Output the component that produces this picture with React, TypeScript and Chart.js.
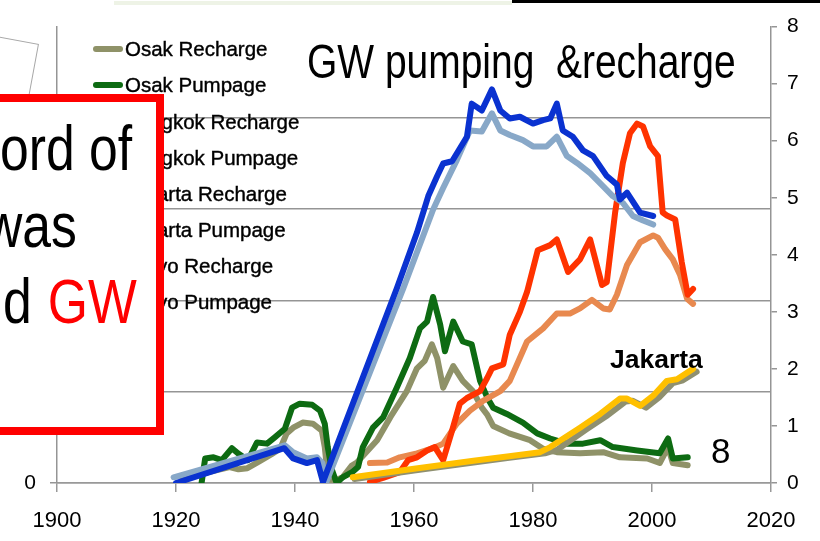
import React, { useEffect, useRef } from "react";
import { Chart, registerables } from "chart.js";

Chart.register(...registerables);

// ---- Data (years / values, right axis 0-8) ----
const xTicks = [1900, 1920, 1940, 1960, 1980, 2000, 2020];

const seriesNames = [
  "Osak Recharge",
  "Osak Pumpage",
  "Bangkok Recharge",
  "Bangkok Pumpage",
  "Jakarta Recharge",
  "Jakarta Pumpage",
  "Tokyo Recharge",
  "Tokyo Pumpage",
];
const seriesColors = ["#8f9268", "#0d6b12", "#e8894f", "#ff3300", "#8f9070", "#ffc000", "#88a8c8", "#0a32d0"];

const osakaRechargeYears = [1921, 1925, 1929, 1930.5, 1932, 1934, 1936, 1937.5, 1938.6, 1939.7, 1941.3, 1943, 1944.5, 1945, 1945.4, 1945.8, 1948, 1949.5, 1950.4, 1953.8, 1956, 1958.8, 1960.5, 1961.8, 1963, 1963.9, 1964.9, 1966.6, 1968.2, 1969.9, 1971.4, 1972.3, 1973.3, 1976, 1979.5, 1981.7, 1984, 1987.9, 1991.8, 1994.6, 1999.2, 2001.3, 2002.7, 2003.5, 2006];
const osakaRechargeValues = [0.05, 0.18, 0.28, 0.24, 0.26, 0.38, 0.5, 0.6, 0.87, 0.97, 1.06, 1.04, 0.92, 0.63, 0.23, 0.0, 0.1, 0.3, 0.36, 0.75, 1.15, 1.61, 2.01, 2.14, 2.43, 2.19, 1.67, 2.05, 1.79, 1.61, 1.32, 1.2, 1.0, 0.87, 0.75, 0.6, 0.54, 0.52, 0.54, 0.45, 0.43, 0.35, 0.63, 0.35, 0.31];

const osakaPumpYears = [1924.3, 1924.9, 1926.3, 1927.7, 1929.4, 1930.4, 1932.1, 1933.6, 1935.3, 1936.6, 1938.3, 1939.5, 1940.8, 1942.9, 1944.2, 1945, 1945.5, 1946.2, 1947, 1948, 1949.6, 1950.6, 1951.4, 1953.1, 1954.8, 1957.1, 1959.3, 1961, 1962.2, 1963.2, 1964.4, 1965.2, 1966.6, 1968.2, 1969.7, 1971.1, 1972.3, 1973.3, 1975.6, 1978.3, 1980.7, 1982.9, 1985.7, 1988.4, 1991.3, 1993.4, 1997.5, 2001.3, 2002.7, 2003.5, 2006];
const osakaPumpValues = [0.0, 0.43, 0.45, 0.4, 0.61, 0.52, 0.4, 0.71, 0.69, 0.8, 0.95, 1.32, 1.39, 1.37, 1.27, 1.04, 0.63, 0.23, 0.0, 0.1, 0.19, 0.28, 0.63, 0.97, 1.15, 1.67, 2.19, 2.71, 2.83, 3.26, 2.78, 2.31, 2.83, 2.48, 2.43, 1.79, 1.5, 1.32, 1.21, 1.06, 0.87, 0.78, 0.69, 0.69, 0.75, 0.63, 0.57, 0.52, 0.78, 0.43, 0.45];

const bangkokRechargeYears = [1952.6, 1955.5, 1957.6, 1960.5, 1963.2, 1964.9, 1967.2, 1969.4, 1971.6, 1974.5, 1976.1, 1979, 1981.7, 1984, 1986.2, 1987.9, 1989.9, 1991.8, 1992.9, 1994.1, 1995.8, 1998, 2000.2, 2001, 2002.2, 2003.5, 2004.7, 2005.9, 2006.9];
const bangkokRechargeValues = [0.35, 0.36, 0.45, 0.52, 0.61, 0.69, 1.04, 1.27, 1.44, 1.61, 1.79, 2.48, 2.71, 2.97, 2.97, 3.06, 3.21, 3.06, 3.04, 3.3, 3.82, 4.22, 4.34, 4.3, 4.1, 3.92, 3.65, 3.23, 3.14];

const bangkokPumpYears = [1952.6, 1954.8, 1957.6, 1959, 1960.5, 1962.2, 1963.5, 1964.9, 1966.4, 1967.7, 1968.9, 1971.1, 1972.3, 1973.1, 1975, 1976.1, 1977.8, 1979, 1980.8, 1982.9, 1984, 1985.9, 1987.9, 1989.6, 1991.6, 1992.4, 1993.8, 1995.1, 1996.3, 1997.5, 1998.5, 1999.7, 2001, 2001.8, 2002.5, 2003.9, 2005, 2006, 2006.9];
const bangkokPumpValues = [0.02, 0.09, 0.19, 0.4, 0.45, 0.57, 0.63, 0.4, 0.92, 1.39, 1.49, 1.61, 1.84, 2.01, 2.08, 2.6, 3.0, 3.35, 4.08, 4.17, 4.27, 3.7, 3.92, 4.27, 3.47, 3.52, 4.74, 5.61, 6.13, 6.3, 6.25, 5.9, 5.73, 4.74, 4.69, 4.62, 3.87, 3.3, 3.4];

const jakartaRechargeYears = [1950, 1960, 1970, 1976, 1982, 1984, 1989, 1992.3, 1995.6, 1996.8, 1999, 2001.2, 2003.5, 2005.2, 2007.5];
const jakartaRechargeValues = [0.07, 0.22, 0.36, 0.44, 0.52, 0.58, 0.94, 1.17, 1.43, 1.44, 1.32, 1.5, 1.75, 1.8, 1.95];

const jakartaPumpYears = [1949.7, 1960, 1970, 1976, 1981.2, 1982.9, 1987.9, 1991.3, 1994.6, 1995.8, 1998, 2000.2, 2002.5, 2004.2, 2006.9];
const jakartaPumpValues = [0.1, 0.25, 0.39, 0.47, 0.54, 0.63, 0.97, 1.21, 1.48, 1.48, 1.35, 1.53, 1.79, 1.82, 2.0];

const tokyoRechargeYears = [1919.6, 1938.3, 1939.7, 1942, 1943.7, 1944.6, 1945.2, 1958.2, 1963.2, 1964.9, 1967.2, 1969.4, 1971.4, 1973.1, 1974.5, 1976.1, 1978.3, 1980, 1982.3, 1984, 1985.7, 1987.4, 1989.6, 1991.8, 1993.4, 1995.1, 1996.8, 1998.5, 2000.2];
const tokyoRechargeValues = [0.1, 0.66, 0.54, 0.43, 0.45, 0.35, 0.0, 3.41, 4.79, 5.17, 5.66, 6.18, 6.16, 6.48, 6.18, 6.1, 6.01, 5.9, 5.9, 6.07, 5.73, 5.61, 5.43, 5.2, 5.03, 4.91, 4.68, 4.6, 4.53];

const tokyoPumpYears = [1920, 1938.2, 1939.7, 1942, 1943.7, 1944.7, 1957.1, 1960.5, 1962.4, 1963.9, 1964.9, 1966.4, 1968.9, 1969.7, 1971.4, 1973.1, 1974.5, 1976.1, 1977.8, 1980, 1981.7, 1982.9, 1984, 1985, 1986.7, 1988.4, 1990.1, 1992.4, 1994.1, 1994.6, 1995.8, 1998, 2000.2];
const tokyoPumpValues = [0.0, 0.61, 0.43, 0.35, 0.4, 0.02, 3.41, 4.39, 5.03, 5.38, 5.6, 5.64, 6.07, 6.65, 6.53, 6.9, 6.53, 6.39, 6.42, 6.3, 6.36, 6.39, 6.65, 6.18, 6.07, 5.83, 5.73, 5.38, 5.23, 4.97, 5.09, 4.74, 4.68];

const seriesYears = [osakaRechargeYears, osakaPumpYears, bangkokRechargeYears, bangkokPumpYears, jakartaRechargeYears, jakartaPumpYears, tokyoRechargeYears, tokyoPumpYears];
const seriesValues = [osakaRechargeValues, osakaPumpValues, bangkokRechargeValues, bangkokPumpValues, jakartaRechargeValues, jakartaPumpValues, tokyoRechargeValues, tokyoPumpValues];

const SANS = "'Liberation Sans', Arial, sans-serif";
const NARROW_X = 0.82;

export default function App() {
  const ref = useRef<HTMLCanvasElement | null>(null);

  useEffect(() => {
    if (!ref.current) return;
    const datasets = seriesNames.map((name, i) => ({
      label: name,
      data: seriesYears[i].map((yr, k) => ({ x: yr, y: seriesValues[i][k] })),
      borderColor: seriesColors[i],
      backgroundColor: seriesColors[i],
      borderWidth: 6,
      pointRadius: 0,
      tension: 0,
      fill: false,
      borderCapStyle: "round" as const,
      borderJoinStyle: "round" as const,
      yAxisID: "y2",
      order: seriesNames.length - i,
    }));
    const chart = new Chart(ref.current, {
      type: "line",
      data: { datasets },
      options: {
        animation: false,
        responsive: false,
        devicePixelRatio: 1,
        layout: { padding: { top: 22, left: 0, right: 0, bottom: 0 } },
        plugins: { legend: { display: false }, tooltip: { enabled: false } },
        scales: {
          x: {
            type: "linear",
            position: "bottom",
            min: 1900,
            max: 2020,
            afterBuildTicks: (s: any) => {
              s.ticks = xTicks.map((v) => ({ value: v }));
            },
            ticks: {
              color: "#000",
              font: { family: SANS, size: 22 },
              padding: 16,
              maxRotation: 0,
              autoSkip: false,
              callback: (v: any) => String(v),
            },
            grid: { drawOnChartArea: false, tickLength: 9, color: "#999", lineWidth: 1.5 },
            border: { color: "#999", width: 1.5 },
            afterFit: (s: any) => {
              s.height = 58;
            },
          },
          y: {
            position: "left",
            min: 0,
            max: 5,
            ticks: {
              stepSize: 1,
              color: "#000",
              font: { family: SANS, size: 21 },
              padding: 14,
              callback: (v: any) => (v === 0 ? "0" : ""),
            },
            grid: {
              color: (ctx: any) => (ctx.tick && ctx.tick.value === 5 ? "rgba(0,0,0,0)" : "#959595"),
              lineWidth: 1.5,
              tickLength: 7,
            },
            border: { color: "#959595", width: 1.5 },
            afterFit: (s: any) => {
              s.width = 57;
            },
          },
          y2: {
            position: "right",
            min: 0,
            max: 8,
            ticks: {
              stepSize: 1,
              color: "#000",
              font: { family: SANS, size: 21 },
              padding: 10,
            },
            grid: { drawOnChartArea: false, tickLength: 6, color: "#959595", lineWidth: 1.5 },
            border: { color: "#959595", width: 1.5 },
            afterFit: (s: any) => {
              s.width = 49;
            },
          },
        },
      },
    });
    return () => chart.destroy();
  }, []);

  const legendCenters = [48.5, 85, 121.5, 157.5, 193.5, 229.5, 266, 302];
  const narrow = (extra: React.CSSProperties): React.CSSProperties => ({
    position: "absolute",
    fontFamily: SANS,
    whiteSpace: "pre",
    color: "#000",
    transformOrigin: "left top",
    transform: `scaleX(${NARROW_X})`,
    ...extra,
  });

  return (
    <div style={{ position: "fixed", left: 0, top: 0, width: 820, height: 541, overflow: "hidden", background: "#fff" }}>
      <div style={{ position: "absolute", left: 114, top: 1, width: 398, height: 4, background: "#eef3e6" }} />
      <div style={{ position: "absolute", left: 512, top: 0, width: 308, height: 3, background: "#000" }} />
      <div
        style={{
          position: "absolute",
          left: 37 - 200,
          top: 44,
          width: 200,
          height: 200,
          border: "1px solid #a8a8a8",
          transformOrigin: "top right",
          transform: "rotate(10.5deg)",
          background: "#fff",
        }}
      />
      <canvas ref={ref} width={820} height={541} style={{ position: "absolute", left: 0, top: 0, width: 820, height: 541 }} />
      <div style={narrow({ left: 307, top: 38, fontSize: 47.5, lineHeight: "47px" })}>{"GW pumping  &recharge"}</div>
      {seriesNames.map((name, i) => (
        <React.Fragment key={name}>
          <div
            style={{
              position: "absolute",
              left: 93,
              top: legendCenters[i] - 3,
              width: 30,
              height: 6,
              borderRadius: 3,
              background: seriesColors[i],
            }}
          />
          <div
            style={{
              position: "absolute",
              left: 125,
              top: legendCenters[i] - 10,
              fontFamily: SANS,
              fontSize: 20.5,
              lineHeight: "20px",
              whiteSpace: "pre",
              color: "#000",
              WebkitTextStroke: "0.4px #000",
            }}
          >
            {name}
          </div>
        </React.Fragment>
      ))}
      <div
        style={{
          position: "absolute",
          left: -20,
          top: 94,
          width: 184,
          height: 341,
          boxSizing: "border-box",
          border: "8px solid #ff0000",
          background: "#fff",
        }}
      />
      <div style={narrow({ left: 0, top: 117, fontSize: 63, lineHeight: "63px" })}>ord of</div>
      <div style={narrow({ left: -15, top: 194, fontSize: 63, lineHeight: "63px" })}>was</div>
      <div style={narrow({ left: 3, top: 270, fontSize: 63, lineHeight: "63px", wordSpacing: 2 })}>
        d <span style={{ color: "#ff0000" }}>GW</span>
      </div>
      <div style={{ position: "absolute", left: 610, top: 346, fontFamily: SANS, fontWeight: "bold", fontSize: 26.5, lineHeight: "26px", color: "#000" }}>
        Jakarta
      </div>
      <div style={{ position: "absolute", left: 711, top: 433, fontFamily: SANS, fontSize: 35, lineHeight: "35px", color: "#000" }}>
        8
      </div>
    </div>
  );
}
